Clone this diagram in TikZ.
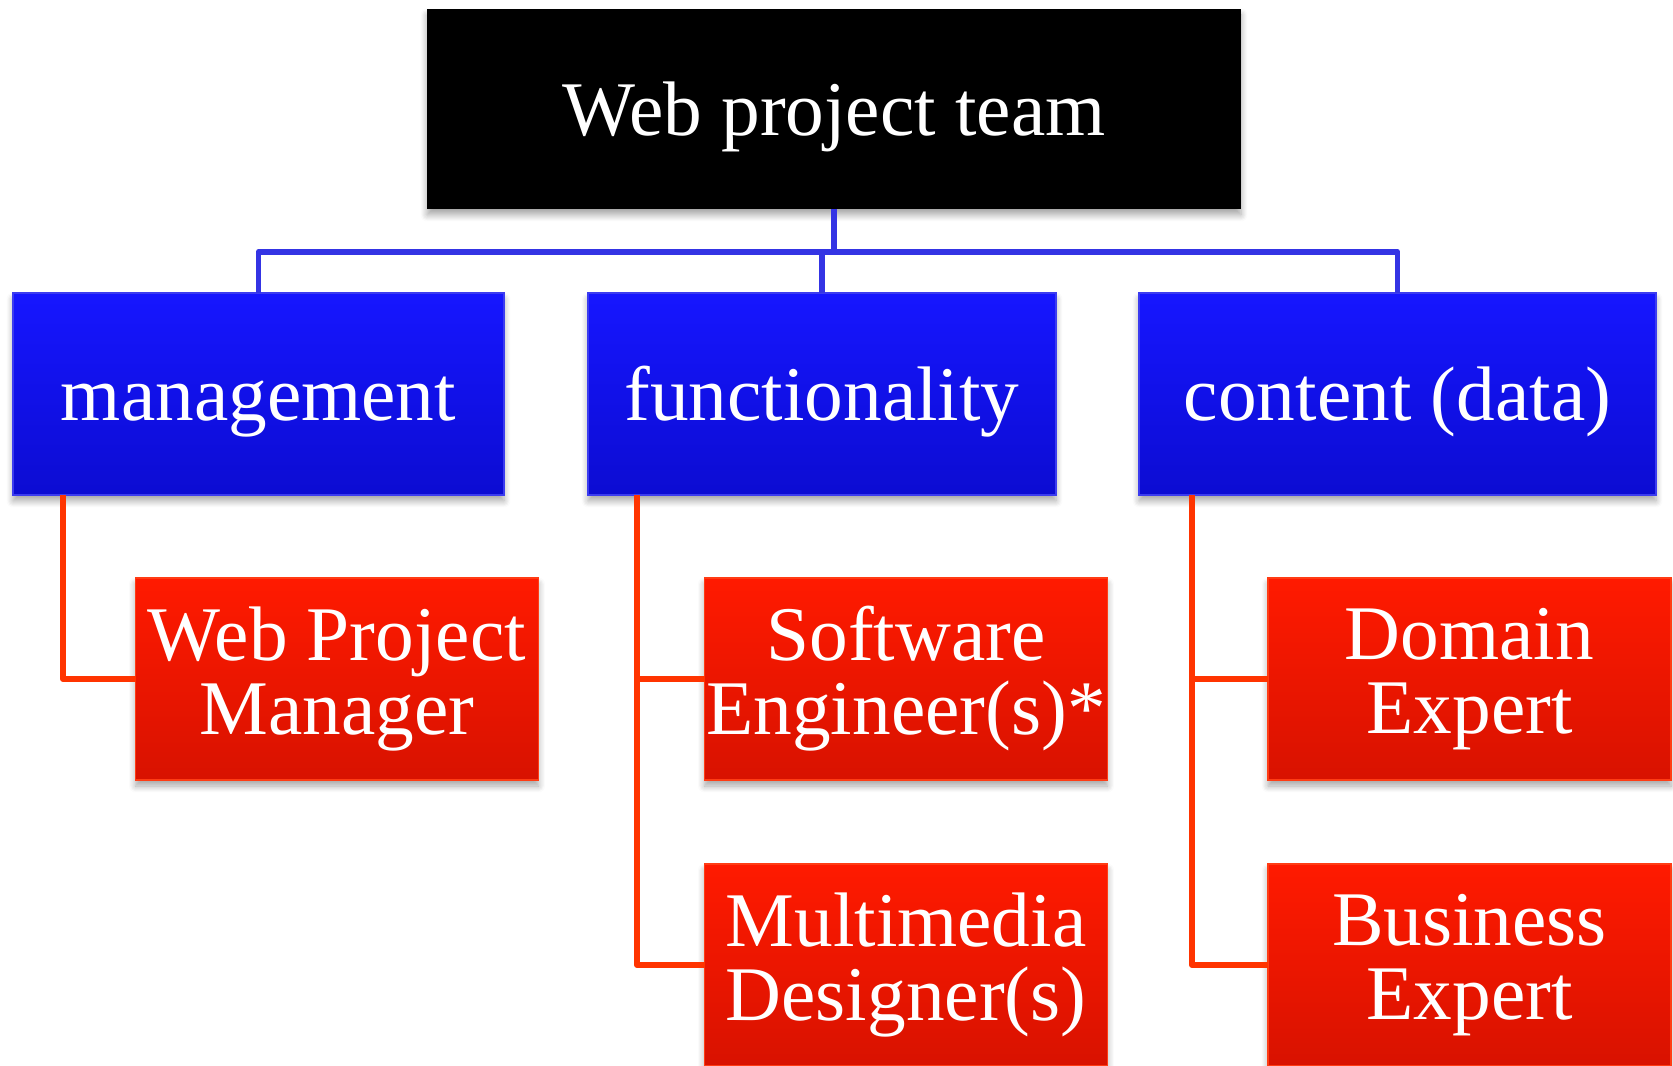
\documentclass[tikz,border=0pt]{standalone}
\usepackage{fontspec}
\setmainfont{Liberation Serif}
\usepackage{xcolor}
\usepackage{tikz}
\usetikzlibrary{shadows.blur,calc}

\definecolor{grouptop}{RGB}{22,22,255}
\definecolor{groupbot}{RGB}{12,12,210}
\definecolor{groupline}{RGB}{60,60,240}
\definecolor{roletop}{RGB}{255,26,0}
\definecolor{rolebot}{RGB}{216,18,0}
\definecolor{roleline}{RGB}{255,60,20}
\definecolor{busblue}{RGB}{52,52,228}
\definecolor{tiered}{RGB}{255,52,0}

\begin{document}
\begin{tikzpicture}[
    box/.style={inner sep=0pt, outer sep=0pt, text=white, align=center,
        font=\fontsize{22}{21}\selectfont,
        execute at begin node={\rule{0pt}{20pt}},
        blur shadow={shadow xshift=0pt, shadow yshift=-0.6mm, shadow blur steps=6, shadow opacity=35}},
    headbox/.style={box, fill=black, minimum width=8.14cm, minimum height=2.0cm},
    groupbox/.style={box, draw=groupline, line width=0.4pt, top color=grouptop, bottom color=groupbot, minimum height=2.02cm},
    rolebox/.style={box, draw=roleline, line width=0.4pt, top color=roletop, bottom color=rolebot, minimum width=4.03cm, minimum height=2.02cm},
    bus/.style={draw=busblue, line width=1.7pt, line join=round},
    tie/.style={draw=tiered, line width=1.7pt, line join=round}
]
\useasboundingbox (0,0) rectangle (16.73,-10.66);

% Top of the hierarchy
\node[headbox] (team) at (8.34,-1.09) {Web project team};

% The three groups
\node[groupbox, minimum width=4.91cm] (mgmt) at (2.585,-3.94) {management};
\node[groupbox, minimum width=4.68cm] (func) at (8.22,-3.94) {functionality};
\node[groupbox, minimum width=5.17cm] (cont) at (13.975,-3.94) {content (data)};

% Roles under each group
\node[rolebox] (wpm) at (3.37,-6.79) {Web Project\\Manager};
\node[rolebox] (swe) at (9.06,-6.79) {Software\\Engineer(s)*};
\node[rolebox] (mmd) at (9.06,-9.65) {Multimedia\\Designer(s)};
\node[rolebox] (dom) at (14.695,-6.79) {Domain\\Expert};
\node[rolebox] (biz) at (14.695,-9.65) {Business\\Expert};

% Blue bus from the team down to the groups
\coordinate (fork) at (8.34,-2.52);
\draw[bus] (team.south) -- (fork) -| (mgmt.north);
\draw[bus] (fork) -| (func.north);
\draw[bus] (fork) -| (cont.north);

% Red ties from groups to roles
\draw[tie] ([xshift=0.50cm]mgmt.south west) |- (wpm.west);
\draw[tie] ([xshift=0.49cm]func.south west) |- (swe.west);
\draw[tie] ([xshift=0.49cm]func.south west) |- (mmd.west);
\draw[tie] ([xshift=0.53cm]cont.south west) |- (dom.west);
\draw[tie] ([xshift=0.53cm]cont.south west) |- (biz.west);
\end{tikzpicture}
\end{document}
